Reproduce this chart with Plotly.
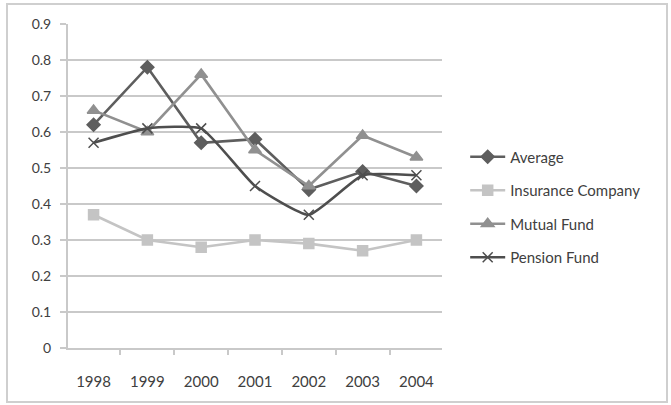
import plotly.graph_objects as go

years = ["1998", "1999", "2000", "2001", "2002", "2003", "2004"]
average = [0.62, 0.78, 0.57, 0.58, 0.44, 0.49, 0.45]
insurance = [0.37, 0.30, 0.28, 0.30, 0.29, 0.27, 0.30]
mutual = [0.66, 0.60, 0.76, 0.55, 0.45, 0.59, 0.53]
pension = [0.57, 0.61, 0.61, 0.45, 0.37, 0.48, 0.48]
y_ticks = [0, 0.1, 0.2, 0.3, 0.4, 0.5, 0.6, 0.7, 0.8, 0.9]

FONT = "Lato"
GRID = "#c9c9c9"
TEXT = "#404040"

series = [
    ("Average", average, "#5e5e5e", "diamond", 10, "linear"),
    ("Insurance Company", insurance, "#c4c4c4", "square", 10, "linear"),
    ("Mutual Fund", mutual, "#909090", "triangle-up", 11, "linear"),
    ("Pension Fund", pension, "#4e4e4e", "x-thin-open", 10, "spline"),
]

fig = go.Figure()
for i, (name, vals, color, symbol, size, shape) in enumerate(series):
    fig.add_trace(go.Scatter(
        x=years, y=vals, name=name, mode="lines+markers",
        legendgroup=f"g{i}",
        line=dict(color=color, width=2.6, shape=shape, smoothing=0.45),
        marker=dict(symbol=symbol, size=size, color=color,
                    line=dict(color=color, width=1.5)),
    ))

fig.update_layout(
    width=671, height=405,
    margin=dict(l=68, r=229, t=24, b=57),
    paper_bgcolor="white", plot_bgcolor="white",
    font=dict(family=FONT, size=14, color=TEXT),
    showlegend=True,
    legend=dict(
        x=1.062, y=0.435, xanchor="left", yanchor="middle",
        font=dict(family=FONT, size=15, color=TEXT),
        tracegroupgap=11, itemwidth=35, bgcolor="rgba(0,0,0,0)",
    ),
    xaxis=dict(
        type="category", categoryorder="array", categoryarray=years,
        showgrid=False, showline=True, linecolor=GRID, linewidth=2,
        ticks="outside", tickson="boundaries", ticklen=5, tickwidth=2,
        tickcolor=GRID, ticklabelstandoff=19, zeroline=False,
        tickfont=dict(size=15),
    ),
    yaxis=dict(
        range=[0, 0.9], tickvals=y_ticks,
        ticktext=[f"{v:g}" for v in y_ticks],
        showgrid=True, gridcolor=GRID, gridwidth=2,
        showline=True, linecolor=GRID, linewidth=2,
        ticks="outside", ticklen=6, tickwidth=2, tickcolor=GRID,
        ticklabelstandoff=6, zeroline=False,
        tickfont=dict(size=14),
    ),
)

# outer chart border
fig.add_shape(type="rect", xref="paper", yref="paper",
              x0=-61 / 374, x1=(667 - 68) / 374,
              y0=-(402 - 348) / 324, y1=1 + (24 - 4) / 324,
              line=dict(color="#cfcfcf", width=2), layer="below")

fig.write_html("out.html")
